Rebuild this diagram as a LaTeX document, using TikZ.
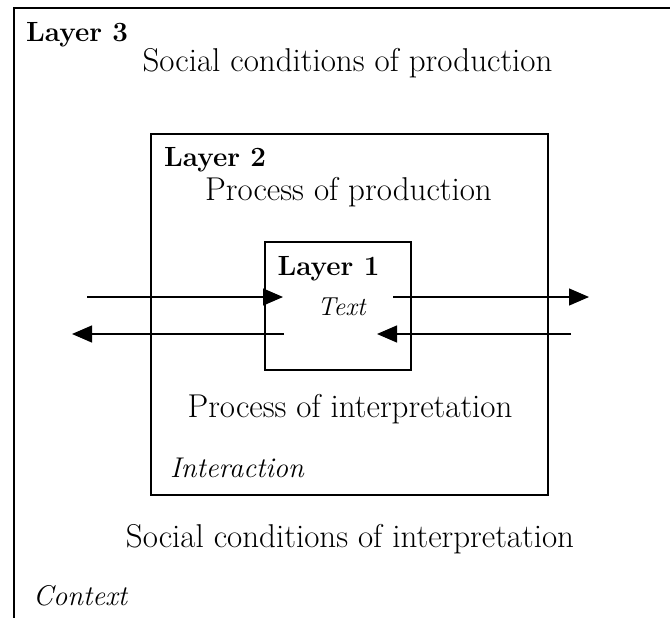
\documentclass[tikz,border=0pt]{standalone}
\usetikzlibrary{arrows.meta}
\begin{document}
\begin{tikzpicture}[x=1pt,y=-1pt,
  line/.style={line width=1.2pt},
  box/.style={draw,line width=1.2pt,rectangle,inner sep=0pt},
  arr/.style={line width=1.2pt,-{Triangle[length=20pt,width=17pt]}},
  norm/.style={inner sep=0pt,font=\fontsize{33}{38}\selectfont},
  bld/.style={inner sep=0pt,font=\fontsize{27.8}{32}\selectfont\bfseries},
  ital/.style={inner sep=0pt,font=\fontsize{28.5}{33}\selectfont\itshape}]
\useasboundingbox (0,0) rectangle (670,618);
% outer layer (context)
\coordinate (o1) at (14,618);
\coordinate (o2) at (14,8);
\coordinate (o3) at (670,8);
\draw[line] (o1) -- (o2) -- (o3);
% boxes
\node[box,minimum width=397pt,minimum height=361pt] (mid) at (349.5,314.5) {};
\node[box,minimum width=146pt,minimum height=128pt] (inner) at (338,306) {};
% texts
\node[bld,anchor=base west] (l3) at (26,42) {Layer 3};
\node[norm,anchor=base] (scp) at (347.5,72) {Social conditions of production};
\node[bld,anchor=base west] (l2) at (164,166) {Layer 2};
\node[norm,anchor=base] (pp) at (348.5,200) {Process of production};
\node[bld,anchor=base] (l1) at (328.5,275) {Layer 1};
\node[ital,anchor=base,font=\fontsize{26}{30}\selectfont\itshape] (txt) at (341.5,315) {Text};
\node[norm,anchor=base] (pi) at (350,417) {Process of interpretation};
\node[ital,anchor=base west] (ia) at (170,477) {Interaction};
\node[norm,anchor=base] (sci) at (350,547) {Social conditions of interpretation};
\node[ital,anchor=base west] (ctx) at (33,605) {Context};
% arrows
\coordinate (a1s) at (87,297);
\coordinate (a1e) at (283,297);
\coordinate (a2s) at (393,297);
\coordinate (a2e) at (589,297);
\coordinate (b1s) at (284,334);
\coordinate (b1e) at (72,334);
\coordinate (b2s) at (571,334);
\coordinate (b2e) at (377,334);
\draw[arr] (a1s) -- (a1e);
\draw[arr] (a2s) -- (a2e);
\draw[arr] (b1s) -- (b1e);
\draw[arr] (b2s) -- (b2e);
\end{tikzpicture}
\end{document}
